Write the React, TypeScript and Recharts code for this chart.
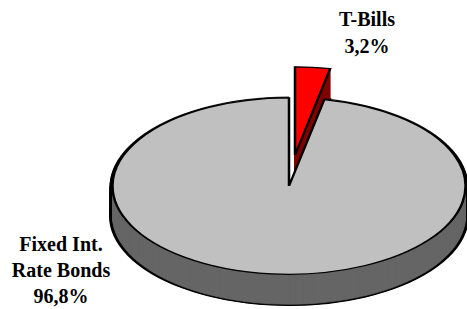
import { PieChart, Pie, Cell } from "recharts";

// Portfolio split.
const categories = ["T-Bills", "Fixed Int. Rate Bonds"];
const values = [3.2, 96.8];
const labelLines = [["T-Bills"], ["Fixed Int.", "Rate Bonds"]];

const data = categories.map((name, i) => ({ name, value: values[i] }));
const pct = (v: number) => `${v.toFixed(1).replace(".", ",")}%`;

// Chart is drawn at double height then squashed to fake the 3D tilt.
const W = 467;
const H = 309;
const SQUASH = 0.5;
const CX = 289;
const CY = 372;
const R = 176.5;
const DEPTH = 60;
const RED_DX = 6;
const RED_DY = -62;
const RED_DEPTH = 60;

const TOP = ["#ff0000", "#c0c0c0"];
const SIDE = ["#800000", "#666666"];

function slab(
  key: string,
  cx: number,
  cy: number,
  r: number,
  fills: (string | null)[],
  stroke: string | null,
  strokeWidth: number
) {
  return (
    <Pie
      key={key}
      data={data}
      dataKey="value"
      nameKey="name"
      cx={cx}
      cy={cy}
      outerRadius={r}
      innerRadius={0}
      startAngle={90}
      endAngle={-270}
      isAnimationActive={false}
      stroke="none"
    >
      {data.map((_, i) => (
        <Cell
          key={i}
          fill={fills[i] ?? "none"}
          stroke={fills[i] ? stroke ?? fills[i]! : "none"}
          strokeWidth={strokeWidth}
        />
      ))}
    </Pie>
  );
}

function steps(depth: number) {
  const out: number[] = [];
  for (let d = depth; d > 0; d -= 2) out.push(d);
  return out;
}

export default function App() {
  const rx = CX + RED_DX;
  const ry = CY + RED_DY;

  const layers = [
    // exploded T-Bills slice, behind everything
    slab("red-bottom", rx, ry + RED_DEPTH, R, [SIDE[0], null], "#000", 2),
    ...steps(RED_DEPTH - 1).map((d) =>
      slab(`red-side-${d}`, rx, ry + d, R, [SIDE[0], null], null, 1)
    ),
    slab("red-top", rx, ry, R, [TOP[0], null], "#000", 2.5),

    // bond slice: black rim, then side, then top face
    slab("rim-bottom", CX, CY + DEPTH, R + 2.5, [null, "#000"], "#000", 2),
    ...steps(DEPTH - 1).map((d) =>
      slab(`rim-${d}`, CX, CY + d, R + 2.5, [null, "#000"], null, 1)
    ),
    ...steps(DEPTH).map((d) =>
      slab(`side-${d}`, CX, CY + d, R, [null, SIDE[1]], null, 1)
    ),
    slab("top", CX, CY, R, [null, TOP[1]], "#000", 2.5),
  ];

  const labelStyle: React.CSSProperties = {
    position: "absolute",
    fontFamily: '"Liberation Serif", "Times New Roman", serif',
    fontWeight: "bold",
    fontSize: 20,
    lineHeight: "26px",
    textAlign: "center",
    color: "#000",
  };

  return (
    <div
      style={{
        position: "absolute",
        left: 0,
        top: 0,
        width: W,
        height: H,
        overflow: "hidden",
        background: "#fff",
      }}
    >
      <div
        style={{
          width: W,
          height: H / SQUASH,
          transform: `scaleY(${SQUASH})`,
          transformOrigin: "0 0",
        }}
      >
        <PieChart
          width={W}
          height={H / SQUASH}
          margin={{ top: 0, right: 0, bottom: 0, left: 0 }}
        >
          {layers}
        </PieChart>
      </div>

      <div style={{ ...labelStyle, left: 317, top: 6, width: 100, lineHeight: "27px" }}>
        {labelLines[0].map((l) => (
          <div key={l}>{l}</div>
        ))}
        <div>{pct(values[0])}</div>
      </div>
      <div style={{ ...labelStyle, left: 1, top: 231, width: 120 }}>
        {labelLines[1].map((l) => (
          <div key={l}>{l}</div>
        ))}
        <div>{pct(values[1])}</div>
      </div>
    </div>
  );
}
